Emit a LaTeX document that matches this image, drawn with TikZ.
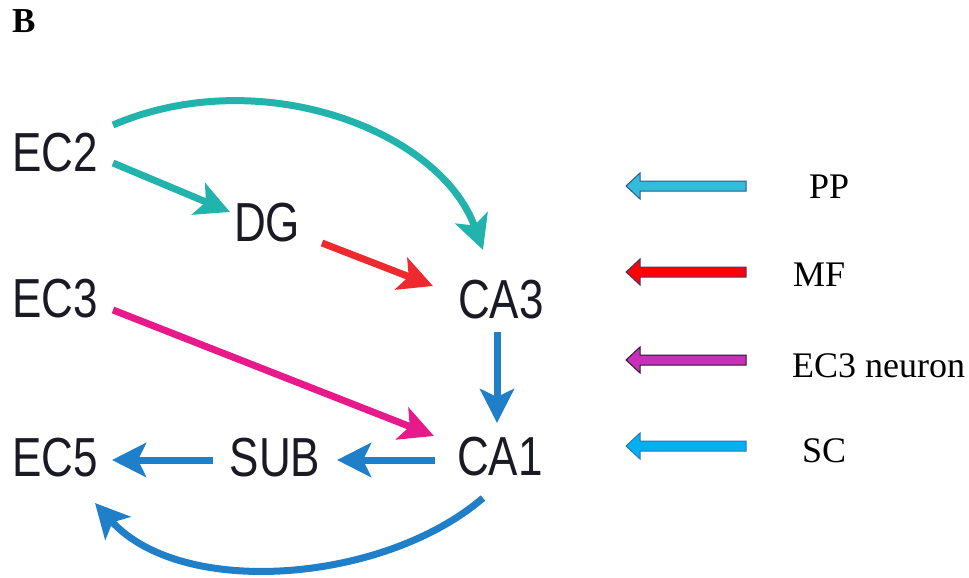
\documentclass[tikz,border=0pt]{standalone}
\usepackage{fontspec}
\setmainfont{Liberation Serif}
\newfontfamily\arialf{Liberation Sans}
\usetikzlibrary{arrows.meta,calc}
\definecolor{cteal}{HTML}{22B3AD}
\definecolor{cred}{HTML}{EE2A2E}
\definecolor{cmag}{HTML}{E8198B}
\definecolor{cblue}{HTML}{1F7FC8}
\definecolor{lpp}{HTML}{33BCD8}
\definecolor{lmf}{HTML}{FF0000}
\definecolor{lec}{HTML}{C930B8}
\definecolor{lsc}{HTML}{00B0F0}
\definecolor{opp}{HTML}{2F5597}
\definecolor{omf}{HTML}{3A3F7A}
\definecolor{oec}{HTML}{2A1A30}
\definecolor{osc}{HTML}{2E75B6}
\definecolor{txt}{HTML}{1A1A24}
\newcommand{\nlab}[1]{\scalebox{0.8}[1]{#1}}
\tikzset{
  region/.style={inner sep=0pt, text=txt, font=\arialf\fontsize{55}{60}\selectfont},
  conn/.style={line width=7pt, -{Stealth[length=34pt,width=34pt,inset=8pt]}},
  legtext/.style={anchor=base west, inner sep=0pt, text=black, font=\fontsize{36}{40}\selectfont},
  legarrow/.style={line width=1pt, line join=miter}
}
\newcommand{\legarr}[3]{% y center, fill, outline
  \draw[legarrow, fill=#2, draw=#3] (626,#1) -- (640,#1-13) -- (640,#1-5) -- (746,#1-5) -- (746,#1+5) -- (640,#1+5) -- (640,#1+13) -- cycle;}
\begin{document}
\begin{tikzpicture}[x=1pt,y=-1pt]
\useasboundingbox (0,0) rectangle (969,578);
\fill[white] (0,0) rectangle (969,578);
\node[anchor=base west, inner sep=0pt, font=\bfseries\fontsize{35}{40}\selectfont] (B) at (12,33) {B};
% regions
\node[region] (EC2) at (55,153) {\nlab{EC2}};
\node[region] (DG)  at (267,223) {\nlab{DG}};
\node[region] (EC3) at (55,299) {\nlab{EC3}};
\node[region] (CA3) at (501,300) {\nlab{CA3}};
\node[region] (EC5) at (55,458) {\nlab{EC5}};
\node[region] (SUB) at (275,458) {\nlab{SUB}};
\node[region] (CA1) at (500,457) {\nlab{CA1}};
% connectors
\draw[conn, cteal] ($(EC2)+(58,-28)$) .. controls +(147,-63) and +(-43,-120) .. ($(CA3)+(-18,-50)$);
\draw[conn, cteal] ($(EC2)+(58,10)$) -- ($(DG)+(-37,-11)$);
\draw[conn, cred] ($(DG)+(55,20)$) -- ($(CA3)+(-68,-14)$);
\draw[conn, cmag] ($(EC3)+(58,11)$) -- ($(CA1)+(-66,-21)$);
\draw[conn, cblue] ($(CA3)+(-4,32)$) -- ($(CA1)+(-3,-34)$);
\draw[conn, cblue] ($(CA1)+(-65,3)$) -- ($(SUB)+(62,2)$);
\draw[conn, cblue] ($(SUB)+(-62,2)$) -- ($(EC5)+(57,2)$);
\draw[conn, cblue] ($(CA1)+(-17,41)$) .. controls +(-99,85) and +(87,96) .. ($(EC5)+(40,45)$);
% legend
\legarr{186}{lpp}{opp}
\legarr{272}{lmf}{omf}
\legarr{360}{lec}{oec}
\legarr{446}{lsc}{osc}
\node[legtext] (PP) at (809,198) {PP};
\node[legtext] (MF) at (793,286) {MF};
\node[legtext] (EC3n) at (792,377) {EC3 neuron};
\node[legtext] (SC) at (802,462) {SC};
\end{tikzpicture}
\end{document}
